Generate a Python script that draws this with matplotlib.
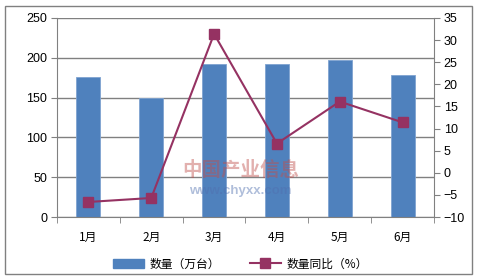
import matplotlib
matplotlib.use("Agg")
import matplotlib.pyplot as plt
from matplotlib.patches import Rectangle
from matplotlib.lines import Line2D
from matplotlib.patches import Patch
import numpy as np

plt.rcParams['font.family'] = ['Liberation Sans', 'Noto Sans CJK SC', 'DejaVu Sans']

months = ["1月", "2月", "3月", "4月", "5月", "6月"]
quantity = [176, 149, 192, 192, 197, 178]
yoy = [-6.6, -5.7, 31.4, 6.6, 16.1, 11.4]
left_ticks = [0, 50, 100, 150, 200, 250]
right_ticks = [-10, -5, 0, 5, 10, 15, 20, 25, 30, 35]
bar_label = "数量（万台）"
line_label = "数量同比（%）"

W, H = 481, 280
fig = plt.figure(figsize=(W / 100, H / 100), dpi=100)
fig.patch.set_facecolor("white")

# outer border
fig.add_artist(Rectangle((5 / W, 1 - 274 / H), (472 - 5) / W, (274 - 6) / H,
                         transform=fig.transFigure, fill=False, edgecolor="#808080", lw=1))

ax = fig.add_axes([57 / W, 1 - 217 / H, (434 - 57) / W, (217 - 18) / H])
x = np.arange(len(months))
bar_color = "#4F81BD"
line_color = "#953262"

ax.bar(x, quantity, width=0.38, color=bar_color, zorder=2,
       edgecolor="#7FA3D1", linewidth=0.6)
ax.set_ylim(0, 250)
ax.set_xlim(-0.5, len(months) - 0.5)
ax.set_yticks(left_ticks)
ax.set_xticks(x)
ax.set_xticklabels(months, family=['Noto Sans CJK SC'], fontsize=8.5)
ax.set_xticks(np.arange(-0.5, len(months), 1.0), minor=True)
ax.tick_params(axis='x', which='major', length=0, pad=10)
ax.tick_params(axis='x', which='minor', length=4, color="#808080", direction='out')
ax.tick_params(axis='y', length=4, color="#808080", labelsize=9, pad=3)
ax.grid(axis='y', color="#808080", lw=1, zorder=0)
ax.set_axisbelow(True)
for s in ["top"]:
    ax.spines[s].set_visible(False)
ax.spines["right"].set_visible(False)
for s in ["left", "bottom"]:
    ax.spines[s].set_color("#808080")

# watermark
fig.text(0.5, 1 - 170 / H, "中国产业信息", family=['Noto Sans CJK SC'], fontsize=14,
         color="#C0504D", alpha=0.45, ha="center", va="center", fontweight="bold", zorder=5)
fig.text(0.5, 1 - 191 / H, "www.chyxx.com", fontsize=9.5, color="#4F6FAF", alpha=0.45,
         ha="center", va="center", fontweight="bold", zorder=5)

ax2 = ax.twinx()
ax2.plot(x, yoy, color=line_color, lw=1.5, marker="s", markersize=7,
         markerfacecolor=line_color, markeredgecolor=line_color, zorder=3)
ax2.set_ylim(-10, 35)
ax2.set_yticks(right_ticks)
ax2.tick_params(axis='y', length=4, color="#808080", labelsize=9, pad=3)
for s in ["top", "left", "bottom"]:
    ax2.spines[s].set_visible(False)
ax2.spines["right"].set_color("#808080")

handles = [Patch(facecolor=bar_color, edgecolor=bar_color),
           Line2D([0], [0], color=line_color, lw=1.5, marker="s", markersize=7)]
fig.legend(handles, [bar_label, line_label], loc="center", bbox_to_anchor=(0.5, 1 - 264 / H),
           ncol=2, frameon=False, prop={'family': ['Noto Sans CJK SC'], 'size': 8.5},
           handlelength=2.6, columnspacing=2.5, handletextpad=0.5)

fig.savefig("out.png", dpi=100)
